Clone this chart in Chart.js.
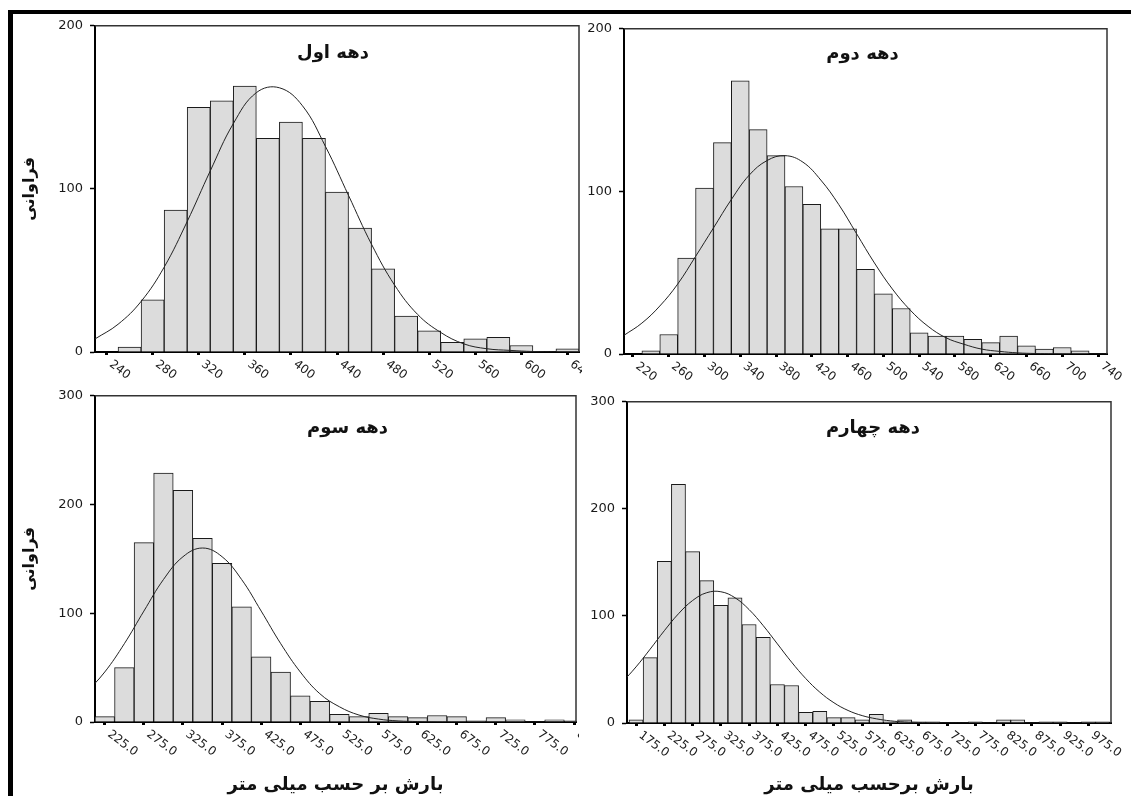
<!DOCTYPE html>
<html>
<head>
<meta charset="utf-8">
<script src="https://cdn.jsdelivr.net/npm/chart.js@4.4.1/dist/chart.umd.min.js"></script>
<style>
html,body{margin:0;padding:0;background:#fff;}
body{width:1131px;height:796px;position:relative;overflow:hidden;}
#frame{position:absolute;left:8px;top:10px;width:1123px;height:786px;border-top:4px solid #000;border-left:5px solid #000;box-sizing:border-box;}
canvas{position:absolute;}
</style>
</head>
<body>
<div id="frame"></div>
<canvas id="c1" width="568" height="379" style="left:14px;top:11px"></canvas>
<canvas id="c2" width="549" height="378" style="left:582px;top:14px"></canvas>
<canvas id="c3" width="565" height="415" style="left:14px;top:381px"></canvas>
<canvas id="c4" width="549" height="409" style="left:582px;top:387px"></canvas>
<script>
// ---- texts ----
const panelTitles = ['دهه اول', 'دهه دوم', 'دهه سوم', 'دهه چهارم'];
const yAxisTitle = 'فراوانی';
const xAxisTitle3 = 'بارش بر حسب میلی متر';
const xAxisTitle4 = 'بارش برحسب میلی متر';

// ---- panel 1: دهه اول ----
const bins1 = [240,260,280,300,320,340,360,380,400,420,440,460,480,500,520,540,560,580,600,620,640];
const counts1 = [0,3,32,87,150,154,163,131,141,131,98,76,51,22,13,6,8,9,4,0,2];
const curveX1 = [230,250,270,290,310,330,350,370,390,410,430,450,470,490,510,530,550,570,590,610,630,650];
const curveY1 = [8,17,31,52,80,111,140,159,162,151,126,96,66,41,23,12,5,2,1,0.3,0.1,0];
const tickLabels1 = ['240','280','320','360','400','440','480','520','560','600','640'];

// ---- panel 2: دهه دوم ----
const bins2 = [220,240,260,280,300,320,340,360,380,400,420,440,460,480,500,520,540,560,580,600,620,640,660,680,700,720,740];
const counts2 = [0,2,12,59,102,130,168,138,122,103,92,77,77,52,37,28,13,11,11,9,7,11,5,3,4,2,0];
const curveX2 = [210,230,250,270,290,310,330,350,370,390,410,430,450,470,490,510,530,550,570,590,610,630,650,670,690,710,730,750];
const curveY2 = [11.5,19,29.5,43,60,77.5,95,110,119,122,118,107,92,74,56,40,27,17,10,6,3,1.6,0.7,0.3,0.1,0,0,0];
const tickLabels2 = ['220','260','300','340','380','420','460','500','540','580','620','660','700','740'];

// ---- panel 3: دهه سوم ----
const bins3 = [225,250,275,300,325,350,375,400,425,450,475,500,525,550,575,600,625,650,675,700,725,750,775,800,825];
const counts3 = [5,50,165,229,213,169,146,106,60,46,24,19,7,5,8,5,4,6,5,1,4,2,0,2,1];
const curveX3 = [200,225,250,275,300,325,350,375,400,425,450,475,500,525,550,575,600,625,650,675,700,725,750,775,800,825,850];
const curveY3 = [26,46,72,102,131,152,160,152,131,102,72,46,26,14,6.4,2.7,1,0.4,0.1,0,0,0,0,0,0,0,0];
const tickLabels3 = ['225.0','275.0','325.0','375.0','425.0','475.0','525.0','575.0','625.0','675.0','725.0','775.0','825.0'];

// ---- panel 4: دهه چهارم ----
const bins4 = [175,200,225,250,275,300,325,350,375,400,425,450,475,500,525,550,575,600,625,650,675,700,725,750,775,800,825,850,875,900,925,950,975,1000];
const counts4 = [3,61,151,223,160,133,110,117,92,80,36,35,10,11,5,5,3,8,1,3,1,1,0,0,1,0,3,3,0,1,1,0,1,1];
const curveX4 = [150,175,200,225,250,275,300,325,350,375,400,425,450,475,500,525,550,575,600,625,650,675,700,725,750,775,800,825,850,875,900,925,950,975,1000,1025];
const curveY4 = [37.7,52.4,69,86.2,102,114.4,121.7,122.6,117,105.9,90.9,73.9,56.9,41.6,28.8,18.9,11.7,6.9,3.9,2,1,0.5,0.2,0.1,0,0,0,0,0,0,0,0,0,0,0,0];
const tickLabels4 = ['175.0','225.0','275.0','325.0','375.0','425.0','475.0','525.0','575.0','625.0','675.0','725.0','775.0','825.0','875.0','925.0','975.0'];

const FONT = 'DejaVu Sans';

const decor = {
  id: 'decor',
  afterDraw(chart, args, o) {
    const {ctx, chartArea: a} = chart;
    const xs = chart.scales.x;
    ctx.save();
    // frame top & right
    ctx.strokeStyle = '#333';
    ctx.lineWidth = 1.5;
    ctx.beginPath();
    ctx.moveTo(a.left, a.top);
    ctx.lineTo(a.right, a.top);
    ctx.lineTo(a.right, a.bottom);
    ctx.stroke();
    // rotated x tick labels
    ctx.font = '12px "' + FONT + '"';
    ctx.fillStyle = '#1a1a1a';
    ctx.textAlign = 'left';
    ctx.textBaseline = 'middle';
    o.labels.forEach(t => {
      const px = xs.getPixelForValue(Number(t));
      ctx.save();
      ctx.translate(px + 4, a.bottom + 11);
      ctx.rotate(o.angle * Math.PI / 180);
      ctx.fillText(t, 0, 0);
      ctx.restore();
    });
    // panel title inside plot
    ctx.font = 'bold 18px "' + FONT + '"';
    ctx.fillStyle = '#111';
    ctx.textAlign = 'center';
    ctx.textBaseline = 'alphabetic';
    ctx.fillText(o.title, (a.left + a.right) / 2 + o.tdx, a.top + o.tdy);
    ctx.restore();
  }
};

function makePanel(id, p) {
  const lineData = p.curveX.map((x, i) => ({x: x, y: p.curveY[i]}));
  const barData = p.bins.map((x, i) => ({x: x, y: p.counts[i]}));
  return new Chart(document.getElementById(id), {
    type: 'bar',
    data: {
      datasets: [
        {type: 'line', data: lineData, borderColor: '#222', borderWidth: 1, pointRadius: 0,
         tension: 0.4, fill: false, clip: 0, order: 0},
        {type: 'bar', data: barData, backgroundColor: '#dcdcdc', borderColor: '#1a1a1a', borderWidth: 1,
         barPercentage: 1, categoryPercentage: 1, clip: 0, order: 1}
      ]
    },
    options: {
      responsive: false,
      animation: false,
      events: [],
      layout: {padding: {top: 10, right: p.padR, left: 0, bottom: 0}},
      plugins: {
        legend: {display: false},
        tooltip: {enabled: false},
        decor: {labels: p.tickLabels, angle: 37, title: p.title, tdx: p.tdx, tdy: p.tdy}
      },
      scales: {
        x: {
          type: 'linear', min: p.xMin, max: p.xMax, offset: false,
          afterBuildTicks: s => { s.ticks = p.tickLabels.map(t => ({value: Number(t)})); },
          afterFit: s => { s.height = p.xH; },
          ticks: {display: false},
          grid: {display: true, drawOnChartArea: false, drawTicks: true, tickLength: 3, tickWidth: 3, tickColor: '#000', offset: false},
          border: {display: true, color: '#000', width: 2},
          title: p.xTitle ? {display: true, text: p.xTitle, color: '#111',
                 font: {family: FONT, size: 18, weight: 'bold'}, padding: {top: 0, bottom: 0}} : {display: false}
        },
        y: {
          min: 0, max: p.yMax,
          ticks: {stepSize: 100, color: '#1a1a1a', padding: 7, font: {family: FONT, size: 13}},
          afterFit: s => { s.width = p.yW; },
          grid: {drawOnChartArea: false, drawTicks: true, tickLength: 5, tickWidth: 1.5, tickColor: '#000'},
          border: {display: true, color: '#000', width: 2},
          title: p.yTitle ? {display: true, text: p.yTitle, color: '#111',
                 font: {family: FONT, size: 16, weight: 'bold'}, padding: {top: 6, bottom: 0}} : {display: false}
        }
      }
    },
    plugins: [decor]
  });
}

makePanel('c1', {bins: bins1, counts: counts1, curveX: curveX1, curveY: curveY1, tickLabels: tickLabels1,
  xMin: 230, xMax: 650, yMax: 200, padR: 3, yW: 81, xH: 38, yTitle: yAxisTitle, xTitle: null,
  title: panelTitles[0], tdx: -4, tdy: 32});
makePanel('c2', {bins: bins2, counts: counts2, curveX: curveX2, curveY: curveY2, tickLabels: tickLabels2,
  xMin: 210, xMax: 750, yMax: 200, padR: 24, yW: 42, xH: 38, yTitle: null, xTitle: null,
  title: panelTitles[1], tdx: -3, tdy: 30});
makePanel('c3', {bins: bins3, counts: counts3, curveX: curveX3, curveY: curveY3, tickLabels: tickLabels3,
  xMin: 212.5, xMax: 827.5, yMax: 300, padR: 3, yW: 81, xH: 74, yTitle: yAxisTitle, xTitle: xAxisTitle3,
  title: panelTitles[2], tdx: 12, tdy: 37});
makePanel('c4', {bins: bins4, counts: counts4, curveX: curveX4, curveY: curveY4, tickLabels: tickLabels4,
  xMin: 159, xMax: 1015, yMax: 300, padR: 20, yW: 45, xH: 73, yTitle: null, xTitle: xAxisTitle4,
  title: panelTitles[3], tdx: 4, tdy: 31});
</script>
</body>
</html>
